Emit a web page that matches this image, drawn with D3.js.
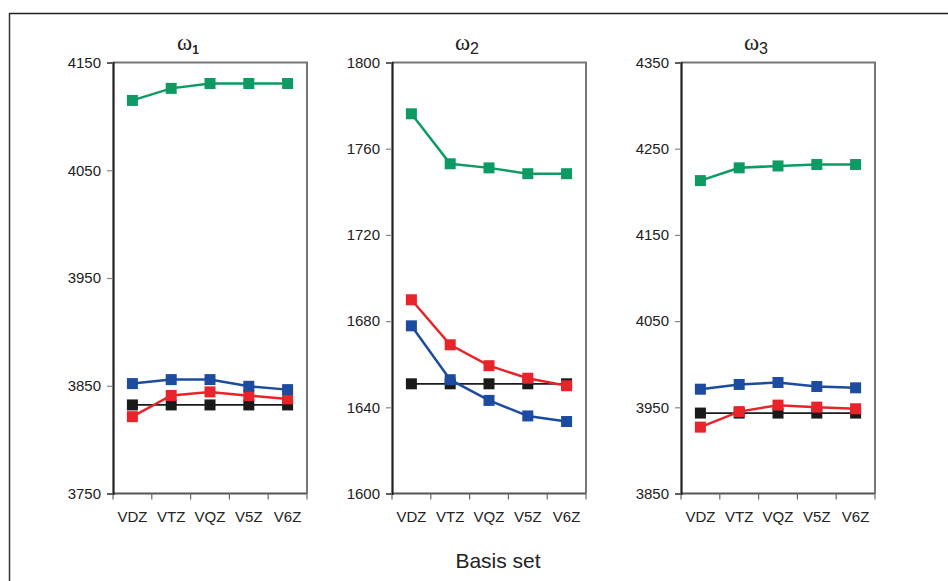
<!DOCTYPE html>
<html>
<head>
<meta charset="utf-8">
<script src="https://cdn.jsdelivr.net/npm/d3@7"></script>
<style>
  body { margin: 0; background: #fff; }
  svg { display: block; font-family: "Liberation Sans", Arial, sans-serif; }
</style>
</head>
<body>
<svg id="chart" width="948" height="581"></svg>
<script>
// basis sets along x
const basisSets = ['VDZ', 'VTZ', 'VQZ', 'V5Z', 'V6Z'];

// panel titles + y ranges
const panelSubs = ['1', '2', '3'];
const yDomains = [[3750, 4150], [1600, 1800], [3850, 4350]];
const yTicks = [
    [3750, 3850, 3950, 4050, 4150],
    [1600, 1640, 1680, 1720, 1760, 1800],
    [3850, 3950, 4050, 4150, 4250, 4350]
];

// series values per panel
const greenVals = [
    [4114.8, 4126.0, 4130.5, 4130.5, 4130.5],
    [1776.2, 1753.0, 1751.1, 1748.4, 1748.4],
    [4213.0, 4227.8, 4230.0, 4231.7, 4231.7]
];
const blueVals = [
    [3852.0, 3855.7, 3855.7, 3849.5, 3846.4],
    [1677.8, 1652.8, 1643.2, 1636.0, 1633.4],
    [3971.0, 3976.5, 3978.8, 3974.1, 3972.6]
];
const redVals = [
    [3821.3, 3841.0, 3844.3, 3840.8, 3837.8],
    [1689.9, 1669.0, 1659.3, 1653.5, 1650.0],
    [3927.0, 3945.0, 3952.5, 3950.2, 3948.3]
];
const blackVals = [
    [3832.2, 3832.2, 3832.2, 3832.2, 3832.2],
    [1650.9, 1650.9, 1650.9, 1650.9, 1650.9],
    [3943.3, 3943.3, 3943.3, 3943.3, 3943.3]
];

const seriesColors = ['#1a1a1a', '#e8242b', '#1c4ba0', '#0d9a63'];

const svg = d3.select('#chart');

// outer frame (top + left only visible)
svg.append('line').attr('x1', 9).attr('x2', 948).attr('y1', 13.5).attr('y2', 13.5)
    .attr('stroke', '#222').attr('stroke-width', 1.5);
svg.append('line').attr('x1', 9.5).attr('x2', 9.5).attr('y1', 13).attr('y2', 581)
    .attr('stroke', '#333').attr('stroke-width', 1.5);

const panelLefts = [113, 392, 681];
const panelW = 194;
const plotTop = 62.5, plotBottom = 493.5;

panelLefts.forEach((left, p) => {
    const x = d3.scaleBand().domain(basisSets).range([left, left + panelW]);
    const y = d3.scaleLinear().domain(yDomains[p]).range([plotBottom, plotTop]);
    const g = svg.append('g');

    // plot box (gray) - top and right
    g.append('path')
        .attr('d', `M${left},${plotTop}H${left + panelW}V${plotBottom}`)
        .attr('fill', 'none').attr('stroke', '#777').attr('stroke-width', 2);

    // x axis
    const xAxis = g.append('g').attr('transform', `translate(0,${plotBottom})`);
    xAxis.append('line').attr('x1', left).attr('x2', left + panelW)
        .attr('stroke', '#555').attr('stroke-width', 2);
    const xTickPos = basisSets.map(b => x(b)).concat([left + panelW]);
    xAxis.selectAll('line.tk').data(xTickPos).enter().append('line')
        .attr('class', 'tk')
        .attr('x1', d => d).attr('x2', d => d).attr('y1', 0).attr('y2', 6)
        .attr('stroke', '#666').attr('stroke-width', 1.2);
    xAxis.selectAll('text').data(basisSets).enter().append('text')
        .attr('x', d => x(d) + x.bandwidth() / 2)
        .attr('y', 28)
        .attr('text-anchor', 'middle')
        .style('font-size', '15px')
        .style('fill', '#222')
        .text(d => d);

    // y axis
    const yAxis = g.append('g').attr('transform', `translate(${left},0)`)
        .call(d3.axisLeft(y).tickValues(yTicks[p]).tickSize(6).tickPadding(6).tickFormat(d3.format('d')));
    yAxis.select('.domain').attr('stroke', '#222').attr('stroke-width', 2.2);
    yAxis.selectAll('.tick line').attr('stroke', '#888').attr('stroke-width', 1.2);
    yAxis.selectAll('.tick text').style('font-size', '15px').style('fill', '#222')
        .style('font-family', '"Liberation Sans", Arial, sans-serif');

    // title
    const t = g.append('text')
        .attr('x', left + panelW / 2 - 22)
        .attr('y', 50)
        .attr('text-anchor', 'middle')
        .style('fill', '#222');
    t.append('tspan').style('font-family', '"Liberation Serif", serif').style('font-size', '23px').text('ω');
    t.append('tspan').attr('dy', 4).style('font-size', p === 0 ? '12px' : '16px')
        .style('font-weight', p === 0 ? 'bold' : 'normal').text(panelSubs[p]);

    // series
    const allSeries = [blackVals[p], redVals[p], blueVals[p], greenVals[p]];
    const line = d3.line()
        .x((d, i) => x(basisSets[i]) + x.bandwidth() / 2)
        .y(d => y(d));
    allSeries.forEach((vals, s) => {
        const c = seriesColors[s];
        g.append('path').datum(vals)
            .attr('d', line)
            .attr('fill', 'none')
            .attr('stroke', c)
            .attr('stroke-width', s === 0 ? 1.8 : 2.5);
        g.selectAll(null).data(vals).enter().append('rect')
            .attr('x', (d, i) => x(basisSets[i]) + x.bandwidth() / 2 - 5.5)
            .attr('y', d => y(d) - 5.5)
            .attr('width', 11).attr('height', 11)
            .attr('fill', c);
    });
});

// shared x title
svg.append('text')
    .attr('x', 498).attr('y', 568)
    .attr('text-anchor', 'middle')
    .style('font-size', '21px')
    .style('fill', '#222')
    .text('Basis set');
</script>
</body>
</html>
